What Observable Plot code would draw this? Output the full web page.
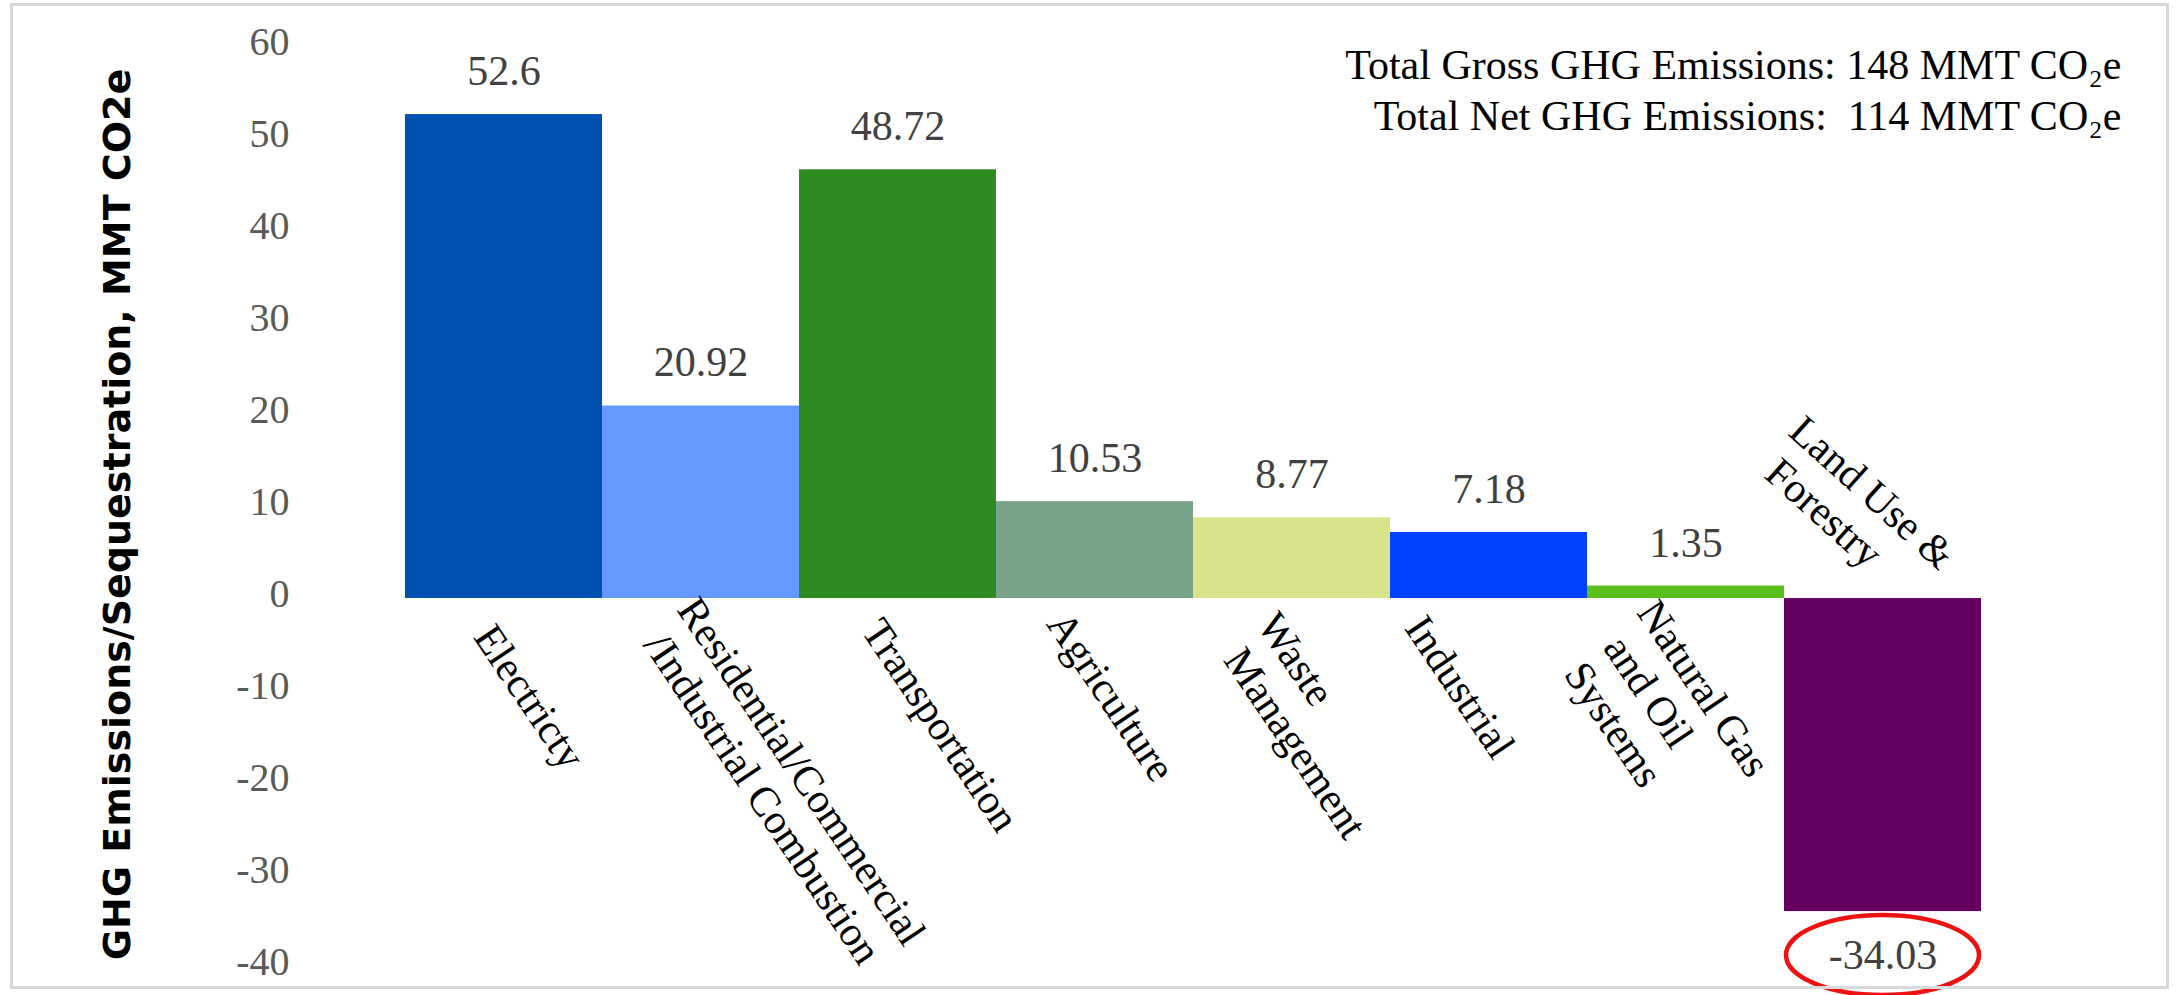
<!DOCTYPE html>
<html><head><meta charset="utf-8">
<script src="https://cdn.jsdelivr.net/npm/d3@7"></script>
<script src="https://cdn.jsdelivr.net/npm/@observablehq/plot@0.6"></script>
<style>
html,body{margin:0;padding:0;background:#fff;overflow:hidden}
#wrap{position:relative;width:2177px;height:995px}
#border{position:absolute;left:10px;top:3px;width:2153px;height:980px;border:3px solid #d9d9d9;pointer-events:none}
</style></head><body><div id="wrap"><div id="border"></div></div>
<script>
const categories = ["Electricty", "Residential/Commercial\n/Industrial Combustion", "Transportation", "Agriculture", "Waste\nManagement", "Industrial", "Natural Gas\nand Oil\nSystems", "Land Use &\nForestry"];
const values = [52.6, 20.92, 46.6, 10.53, 8.77, 7.18, 1.35, -34.03];
const valueLabels = ["52.6", "20.92", "48.72", "10.53", "8.77", "7.18", "1.35", "-34.03"];
const colors = ["#0050b0", "#6699ff", "#2e8b22", "#78a388", "#d8e38a", "#0040ff", "#5cbe1a", "#660060"];
const yTicks = [60, 50, 40, 30, 20, 10, 0, -10, -20, -30, -40];
const yTitle = "GHG Emissions/Sequestration, MMT CO2e";
const notes = ["Total Gross GHG Emissions: 148 MMT CO\u2082e", "Total Net GHG Emissions:  114 MMT CO\u2082e"];

const rows = categories.map((c, i) => ({category: c, value: values[i], label: valueLabels[i], color: colors[i]}));
const serif = "Liberation Serif, Times New Roman, serif";

// layout: pixel nudges and rotation of each category label (dx, dy from band centre at y = 0, angle)
const labelNudge = [[-19, 30, 56], [-32, 16, 56], [-25, 24, 56], [-37, 17, 56], [-43, 31, 56], [-73, 21, 56], [-77, 32, 56], [-102, -158, 42]];
const displayName = d => d.category.split("\n").map((l, i) => (i ? "\u00a0" + l : l)).join("\n");

function ellipseMark(index, scales) {
  const g = d3.create("svg:g");
  const bw = scales.x(categories[1]) - scales.x(categories[0]);
  for (const d of rows.filter(r => r.value < 0)) {
    g.append("ellipse")
      .attr("cx", scales.x(d.category) + bw / 2)
      .attr("cy", scales.y(d.value) + 44)
      .attr("rx", bw * 0.49)
      .attr("ry", 40)
      .attr("fill", "none")
      .attr("stroke", "#ee1111")
      .attr("stroke-width", 4.5);
  }
  return g.node();
}

const labelMarks = rows.map((r, i) => Plot.text([r], {
  x: "category", y: () => 0, text: displayName,
  rotate: labelNudge[i][2], textAnchor: "start", lineAnchor: "middle",
  dx: labelNudge[i][0], dy: labelNudge[i][1],
  fontSize: 42, lineHeight: 1.13, fill: "#000"
}));

const chart = Plot.plot({
  width: 2177,
  height: 995,
  marginLeft: 403,
  marginRight: 194,
  marginTop: 46,
  marginBottom: 29,
  style: {fontFamily: serif, background: "transparent"},
  x: {domain: categories, padding: 0, axis: null},
  y: {domain: [-40, 60], axis: null},
  color: {type: "identity"},
  marks: [
    Plot.barY(rows, {x: "category", y: "value", fill: "color"}),
    Plot.axisY(yTicks, {tickSize: 0, tickPadding: 114, dy: -4, tickFormat: d => String(d), fontSize: 40, fill: "#595959", fontFamily: serif, label: null}),
    Plot.text(rows, {filter: d => d.value >= 0, x: "category", y: "value", text: "label", dy: -43, fontSize: 42, fill: "#404040"}),
    Plot.text(rows, {filter: d => d.value < 0, x: "category", y: "value", text: "label", dy: 44, fontSize: 42, fill: "#404040"}),
    ...labelMarks,
    ellipseMark,
    Plot.text([notes.join("\n")], {frameAnchor: "top-right", textAnchor: "end", lineAnchor: "top", dx: 138, dy: -4, fontSize: 42, lineHeight: 1.22, fill: "#000"}),
    Plot.text([yTitle], {frameAnchor: "left", textAnchor: "middle", rotate: -90, dx: -286, dy: 8, fontSize: 38, letterSpacing: 2.25, fontWeight: "bold", fontFamily: "DejaVu Sans", fill: "#000"})
  ]
});
document.getElementById("wrap").prepend(chart);
</script>
</body></html>
